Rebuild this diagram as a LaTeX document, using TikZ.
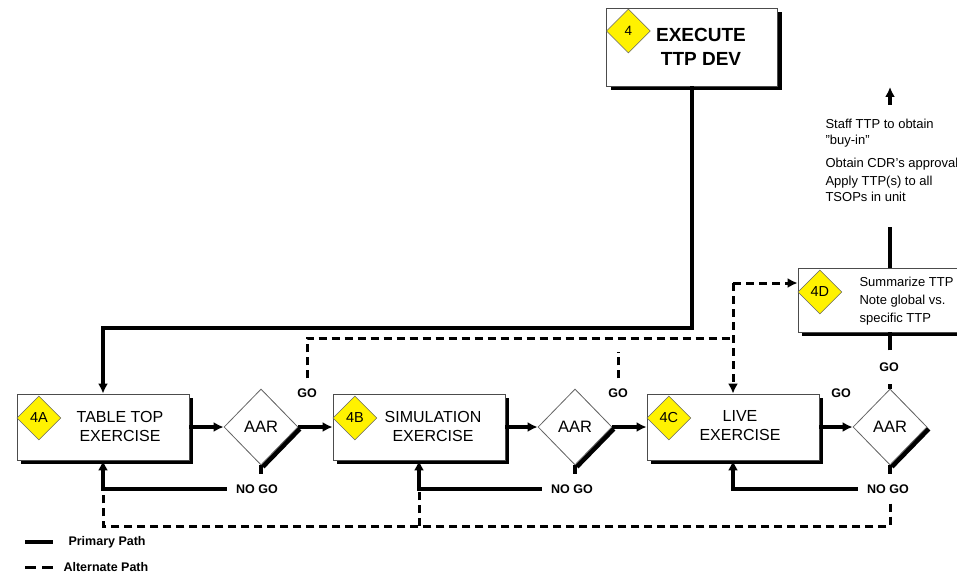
\documentclass[tikz,border=0pt]{standalone}
\usepackage{fontspec}
\setmainfont{Liberation Sans}
\usetikzlibrary {positioning}
\usetikzlibrary {shapes.geometric,shadows,arrows.meta}

\begin{document}
\begin{tikzpicture}[x=1pt ,y=-1pt ,
    phase/.style ={rectangle ,draw=black!70 ,line width=0.8pt ,fill=white ,
    minimum width =172pt ,minimum height =66pt ,
    drop shadow={shadow xshift=4pt ,shadow yshift=-4pt ,fill=black ,opacity=1}},
    phasetext/.style={align=center ,font=\fontsize{16}{19}\selectfont},
    tag/.style ={diamond ,draw=black!60 ,fill=yellow ,line width=0.6pt ,inner sep=0pt ,
    minimum width =44pt ,minimum height =44pt ,font=\fontsize{14.5}{14.5}\selectfont},
    review/.style ={diamond ,draw=black!60 ,fill=white ,line width=0.8pt ,inner sep=0pt ,
    minimum width =74pt ,minimum height =76pt ,font=\fontsize{16.5}{16.5}\selectfont ,
    drop shadow={shadow xshift=3.5pt ,shadow yshift=-3.5pt ,fill=black ,opacity=1}},
    verdict/.style={font=\bfseries\fontsize{12.5}{12.5}\selectfont ,inner xsep=9pt ,inner ysep=10pt},
    primary/.style={line width=3.6pt},
    alternate/.style={line width=3pt ,dash pattern=on 8pt off 5pt},
    flow/.style={-{Latex[length=10pt,width=10pt]}}
    ]
    \useasboundingbox (0,0) rectangle (957,575);

    % phases
    \node[phase ,minimum width=171pt ,minimum height=78pt] (exec) at (692,47) {};
    \node[phasetext ,font=\bfseries\fontsize{19}{24}\selectfont] (exectxt) at (701,47) {EXECUTE\\TTP DEV};
    \node[tag ,font=\fontsize{13.5}{13.5}\selectfont] (tag4) [right=0pt of exec.west ,yshift=16pt] {4};

    \node[phase] (tabletop) at (103,427) {};
    \node[phasetext] (tabletoptxt) at (120,426) {TABLE TOP\\EXERCISE};
    \node[tag] (tagA) [right=0pt of tabletop.west ,yshift=9pt] {4A};
    \node[review] (aarA) at (261,427) {AAR};

    \node[phase] (sim) at (419,427) {};
    \node[phasetext] (simtxt) at (433,426) {SIMULATION\\EXERCISE};
    \node[tag] (tagB) [right=0pt of sim.west ,yshift=9pt] {4B};
    \node[review] (aarB) at (575,427) {AAR};

    \node[phase] (live) at (733,427) {};
    \node[phasetext] (livetxt) at (740,426) {LIVE\\EXERCISE};
    \node[tag] (tagC) [right=0pt of live.west ,yshift=9pt] {4C};
    \node[review] (aarC) at (890,427) {AAR};

    \node[phase ,minimum width=184pt ,minimum height=64pt] (summ) at (890,300) {};
    \node[tag] (tagD) [right=0pt of summ.west ,yshift=8pt] {4D};
    \node[align=left ,anchor=west ,font=\fontsize{13}{18}\selectfont] (summtxt) at (856,301)
        {Summarize TTP\\Note global vs.\\specific TTP};
    \node[align=left ,anchor=west ,font=\fontsize{13}{16}\selectfont] (notes) at (822,160)
        {Staff TTP to obtain\\"buy-in"\\[7pt]Obtain CDR's approval\\[2pt]Apply TTP(s) to all\\TSOPs in unit};

    % go / no go
    \node[verdict] (goA) at (307,393) {GO};
    \node[verdict] (goB) at (618,393) {GO};
    \node[verdict] (goC) at (841,393) {GO};
    \node[verdict ,inner ysep=12pt] (goD) at (889,367) {GO};
    \node[verdict] (nogoA) at (257,489) {NO GO};
    \node[verdict] (nogoB) at (572,489) {NO GO};
    \node[verdict] (nogoC) at (888,489) {NO GO};

    \coordinate (bend) at (692,328);
    \coordinate (notesfoot) at (890,227);
    \coordinate (noteshead) at (890,105);
    \coordinate (exit) at (890,87);
    \coordinate (altjoin) at (733,338);
    \coordinate (altfork) at (733,283);
    \coordinate (altstub) at (618,352);
    \coordinate (altlow) at (103,526);

    % primary path
    \draw[primary ,flow] (exec.south) -- (bend) -| (tabletop.north);
    \draw[primary ,flow] (tabletop.east) -- (aarA.west);
    \draw[primary ,flow] (aarA.east) -- (sim.west);
    \draw[primary ,flow] (sim.east) -- (aarB.west);
    \draw[primary ,flow] (aarB.east) -- (live.west);
    \draw[primary ,flow] (live.east) -- (aarC.west);
    \draw[primary] (aarA.south) -- (aarA.south |- nogoA.north);
    \draw[primary ,flow] (nogoA.west) -| (tabletop.south);
    \draw[primary] (aarB.south) -- (aarB.south |- nogoB.north);
    \draw[primary ,flow] (nogoB.west) -| (sim.south);
    \draw[primary] (aarC.south) -- (aarC.south |- nogoC.north);
    \draw[primary ,flow] (nogoC.west) -| (live.south);
    \draw[primary] (aarC.north) -- (aarC.north |- goD.south);
    \draw[primary] (aarC.north |- goD.north) -- (summ.south);
    \draw[primary] (summ.north) -- (notesfoot);
    \draw[primary ,flow] (noteshead) -- (exit);

    % alternate path
    \draw[alternate] (goA.north) |- (altjoin);
    \draw[alternate] (goB.north) -- (altstub);
    \draw[alternate ,flow] (altfork) -- (live.north);
    \draw[alternate ,flow] (altfork) -- (altfork -| summ.west);
    \draw[alternate] (aarC.south |- nogoC.south) |- (altlow) -- (tabletop.south |- nogoA.west);
    \draw[alternate] (sim.south |- altlow) -- (sim.south |- nogoB.west);

    % legend
    \coordinate (legprim) at (25,542);
    \coordinate (legalt) at (25,567);
    \node[anchor=west ,font=\bfseries\fontsize{12.5}{12.5}\selectfont] (primtxt) at (65,542) {Primary Path};
    \node[anchor=west ,font=\bfseries\fontsize{12.5}{12.5}\selectfont] (alttxt) at (60,567) {Alternate Path};
    \draw[primary] (legprim) -- ++(28,0);
    \draw[alternate ,dash pattern=on 11pt off 6pt] (legalt) -- ++(28,0);
\end{tikzpicture}
\end{document}
